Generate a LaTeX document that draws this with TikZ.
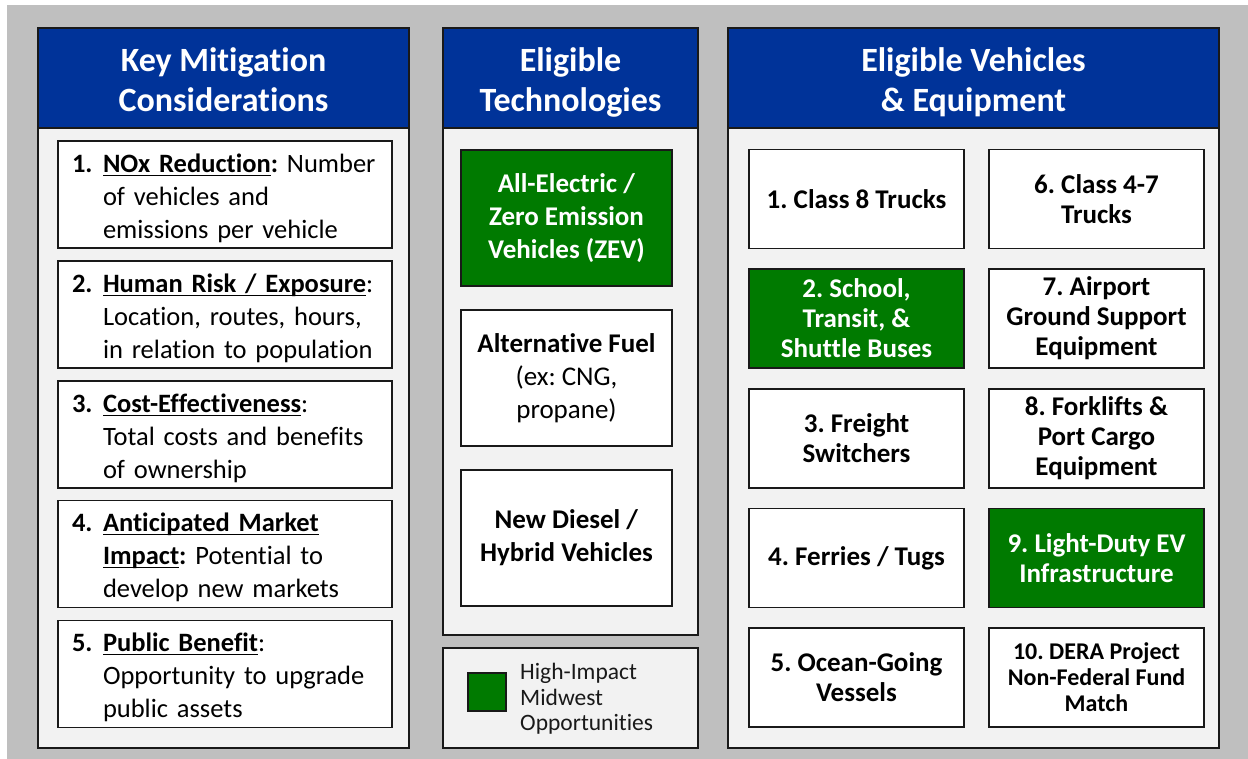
\documentclass[tikz,border=0pt]{standalone}
\usepackage{fontspec}
\setmainfont{Carlito}[Ligatures=NoCommon]
\frenchspacing
\definecolor{bggray}{RGB}{191,191,191}
\definecolor{panelgray}{RGB}{242,242,242}
\definecolor{hblue}{RGB}{0,51,153}
\definecolor{dgreen}{RGB}{0,122,0}
\definecolor{edge}{RGB}{25,25,25}
\newcommand\myul[1]{\setbox0\hbox{#1}\rlap{\rule[-3.5pt]{\wd0}{1.3pt}}\box0}
\newcommand\numlab[1]{\rule{0pt}{26pt}\makebox[31pt][l]{\textbf{#1}}}
\tikzset{
  panelbody/.style={rectangle, draw=edge, line width=1.5pt, fill=panelgray, inner sep=0pt},
  headbox/.style={rectangle, draw=edge, line width=1.5pt, fill=hblue, inner sep=0pt},
  headtext/.style={text=white, align=center, inner sep=0pt, font=\bfseries\fontsize{34}{40}\selectfont},
  itembox/.style={rectangle, draw=edge, line width=1.5pt, fill=white, text width=306pt, inner xsep=14pt, inner ysep=0pt, align=left, minimum height=107pt, font=\fontsize{26.5}{33}\selectfont},
  techbox/.style={rectangle, draw=edge, line width=1.5pt, fill=white, minimum width=211pt, minimum height=136pt, inner sep=0pt, align=center, font=\fontsize{27}{33}\selectfont},
  vehbox/.style={rectangle, draw=edge, line width=1.5pt, fill=white, minimum width=215pt, minimum height=99pt, inner sep=0pt, align=center, font=\bfseries\fontsize{27}{30}\selectfont},
  greenfill/.style={fill=dgreen, text=white},
}
\begin{document}
\begin{tikzpicture}[x=1pt, y=-1pt]
\useasboundingbox (0,0) rectangle (1248,759);
\fill[bggray] (7,5) rectangle (1248,759);

% ---------- Left panel ----------
\node[panelbody, minimum width=371pt, minimum height=720pt] (lbody) at (223.5,388) {};
\node[headbox, minimum width=371pt, minimum height=100pt] (lhead) at (223.5,78) {};
\node[headtext] (lhtxt) at (223.5,84) {Key Mitigation\strut\\Considerations\strut};

\node[itembox] (i1) at (225,194.5) {\numlab{1.}\textbf{\myul{NOx Reduction}:} Number\\\hspace*{31pt}of vehicles and\\\hspace*{31pt}emissions per vehicle};
\node[itembox] (i2) at (225,314.5) {\numlab{2.}\textbf{\myul{Human Risk / Exposure}}:\\\hspace*{31pt}Location, routes, hours,\\\hspace*{31pt}in relation to population};
\node[itembox] (i3) at (225,434.5) {\numlab{3.}\textbf{\myul{Cost-Effectiveness}}:\\\hspace*{31pt}Total costs and benefits\\\hspace*{31pt}of ownership};
\node[itembox] (i4) at (225,554) {\numlab{4.}\textbf{\myul{Anticipated Market}}\\\hspace*{31pt}\textbf{\myul{Impact}:} Potential to\\\hspace*{31pt}develop new markets};
\node[itembox] (i5) at (225,674) {\numlab{5.}\textbf{\myul{Public Benefit}}:\\\hspace*{31pt}Opportunity to upgrade\\\hspace*{31pt}public assets};

% ---------- Middle panel ----------
\node[panelbody, minimum width=255pt, minimum height=607pt] (mbody) at (570.5,331.5) {};
\node[headbox, minimum width=255pt, minimum height=100pt] (mhead) at (570.5,78) {};
\node[headtext] (mhtxt) at (570.5,84) {Eligible\strut\\Technologies\strut};

\node[techbox, greenfill] (t1) at (566.5,218) {\textbf{All-Electric /}\\\textbf{Zero Emission}\\\textbf{Vehicles (ZEV)}};
\node[techbox] (t2) at (566.5,378) {\textbf{Alternative Fuel}\\(ex: CNG,\\propane)};
\node[techbox] (t3) at (566.5,538) {\textbf{New Diesel /}\\\textbf{Hybrid Vehicles}};

\node[panelbody, minimum width=255pt, minimum height=100pt] (legend) at (570.5,698) {};
\node[rectangle, draw=edge, line width=1.5pt, fill=dgreen, minimum width=38pt, minimum height=38pt, inner sep=0pt] (legsq) at (487,692) {};
\node[anchor=west, inner sep=0pt, align=left, font=\fontsize{23.5}{25.5}\selectfont, text=black!90] (legtxt) at (520,699) {High-Impact\\Midwest\\Opportunities};

% ---------- Right panel ----------
\node[panelbody, minimum width=491pt, minimum height=720pt] (rbody) at (973.5,388) {};
\node[headbox, minimum width=491pt, minimum height=100pt] (rhead) at (973.5,78) {};
\node[headtext] (rhtxt) at (973.5,84) {Eligible Vehicles\strut\\\& Equipment\strut};

\node[vehbox] (v1) at (856.5,199) {1. Class 8 Trucks};
\node[vehbox, greenfill] (v2) at (856.5,318.5) {2. School,\\Transit, \&\\Shuttle Buses};
\node[vehbox] (v3) at (856.5,438.5) {3. Freight\\Switchers};
\node[vehbox] (v4) at (856.5,558) {4. Ferries / Tugs};
\node[vehbox] (v5) at (856.5,677.5) {5. Ocean-Going\\Vessels};

\node[vehbox] (v6) at (1096.5,199) {6. Class 4-7\\Trucks};
\node[vehbox] (v7) at (1096.5,318.5) {7. Airport\\Ground Support\\Equipment};
\node[vehbox] (v8) at (1096.5,438.5) {8. Forklifts \&\\Port Cargo\\Equipment};
\node[vehbox, greenfill] (v9) at (1096.5,558) {9. Light-Duty EV\\Infrastructure};
\node[vehbox, font=\bfseries\fontsize{24}{26}\selectfont] (v10) at (1096.5,677.5) {10. DERA Project\\Non-Federal Fund\\Match};
\end{tikzpicture}
\end{document}
